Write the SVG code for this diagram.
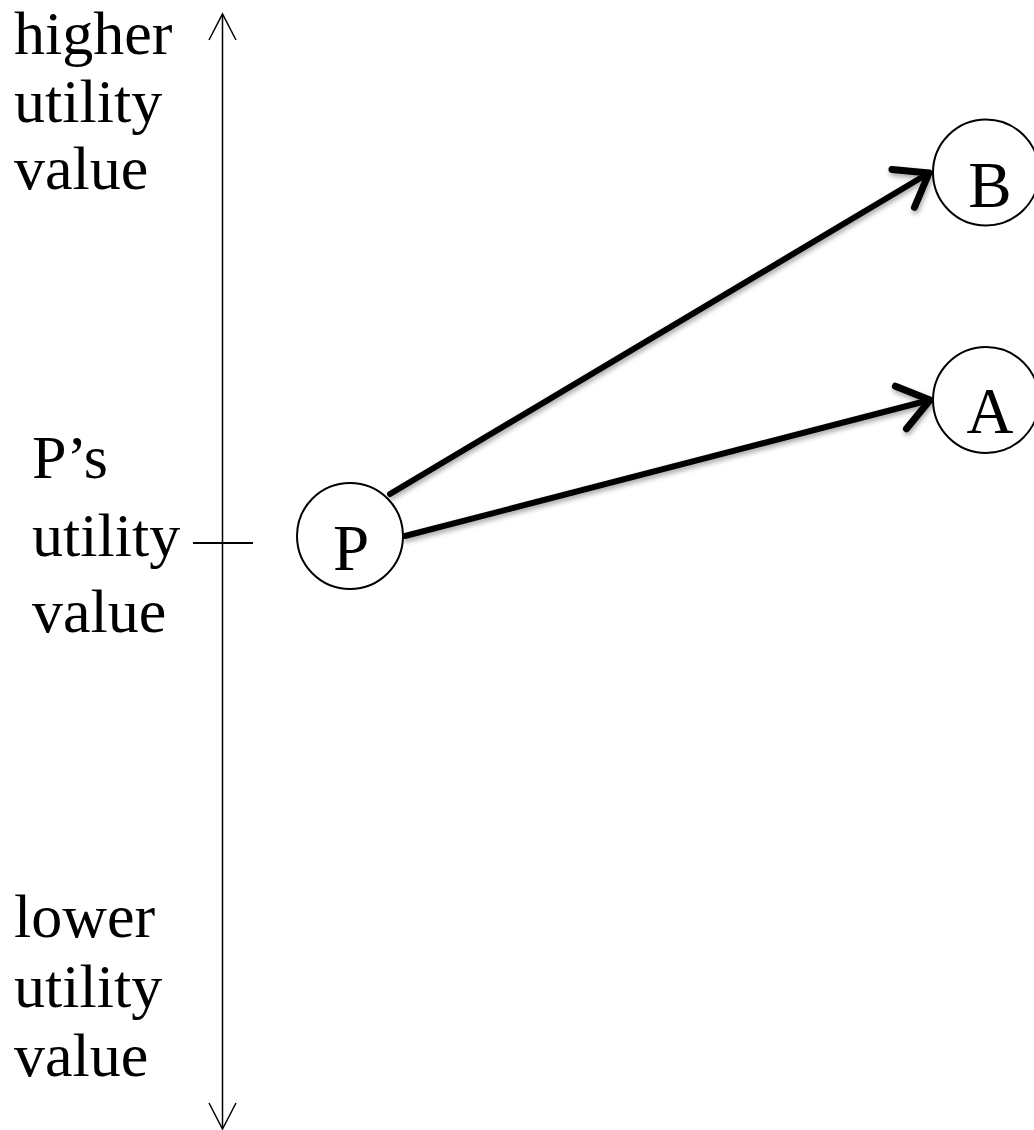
<svg xmlns="http://www.w3.org/2000/svg" width="1034" height="1130" viewBox="0 0 1034 1130">
  <style>
    .lbl { font-family: "Liberation Serif", "Times New Roman", serif; font-size: 62px; fill: #000; }
    .nodetxt { font-family: "Liberation Serif", "Times New Roman", serif; font-size: 65px; fill: #000; text-anchor: middle; }
    .node { fill: #fff; stroke: #000; stroke-width: 2; }
    .axis { stroke: #000; stroke-width: 1.5; fill: none; }
    .edge { stroke: #000; stroke-width: 6; fill: none; stroke-linecap: round; }
  </style>
  <defs>
    <marker id="head" markerUnits="userSpaceOnUse" markerWidth="60" markerHeight="60" viewBox="-40 -30 50 60" refX="0" refY="0" orient="auto">
      <path d="M -30,-22 L 0,0 L -30,22" fill="none" stroke="#000" stroke-width="7" stroke-linecap="round" stroke-linejoin="round"/>
    </marker>
    <filter id="shadow" x="-10%" y="-10%" width="120%" height="130%">
      <feDropShadow dx="1" dy="3" stdDeviation="2.5" flood-color="#000" flood-opacity="0.35"/>
    </filter>
  </defs>

  <g id="axis">
    <line class="axis" x1="222.5" y1="15" x2="222.5" y2="1128"/>
    <polyline class="axis" points="209,40 222.5,14 236,40"/>
    <polyline class="axis" points="209,1103 222.5,1129 236,1103"/>
    <line x1="193" y1="543" x2="253" y2="543" stroke="#000" stroke-width="2"/>
  </g>

  <g id="labels">
    <text class="lbl" x="14" y="54">higher</text>
    <text class="lbl" x="14" y="122">utility</text>
    <text class="lbl" x="14" y="189">value</text>
    <text class="lbl" x="32" y="478">P’s</text>
    <text class="lbl" x="32" y="556">utility</text>
    <text class="lbl" x="32" y="632">value</text>
    <text class="lbl" x="14" y="937">lower</text>
    <text class="lbl" x="14" y="1007">utility</text>
    <text class="lbl" x="14" y="1076">value</text>
  </g>

  <g id="connectors" filter="url(#shadow)">
    <line class="edge" x1="390" y1="494" x2="929" y2="173" marker-end="url(#head)"/>
    <line class="edge" x1="405" y1="536" x2="930" y2="400" marker-end="url(#head)"/>
  </g>

  <g id="node-P">
    <circle class="node" cx="350" cy="536" r="53"/>
    <text class="nodetxt" x="351" y="570">P</text>
  </g>
  <g id="node-B">
    <circle class="node" cx="986" cy="172.5" r="53"/>
    <text class="nodetxt" x="990" y="207">B</text>
  </g>
  <g id="node-A">
    <circle class="node" cx="986" cy="400" r="53"/>
    <text class="nodetxt" x="990" y="433">A</text>
  </g>
</svg>
